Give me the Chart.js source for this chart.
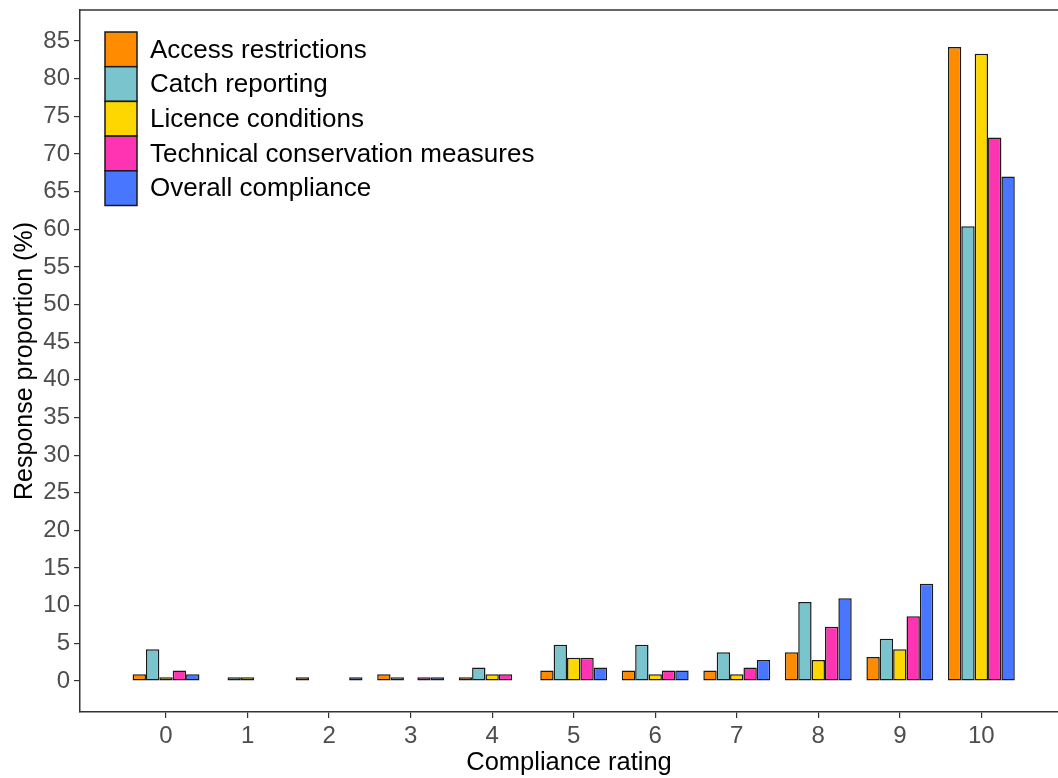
<!DOCTYPE html>
<html>
  <head>
    <meta charset="utf-8">
    <title>Compliance rating</title>
    <style>
      body { margin: 0; background: #fff; }
      #wrap { width: 1058px; height: 778px; }
    </style>
  </head>
  <body>
    <div id="wrap"><canvas id="myChart" width="1058" height="778"></canvas></div>
  </body>
  <script src="https://cdn.jsdelivr.net/npm/chart.js@4.4.1/dist/chart.umd.min.js"></script>
  <script type="text/javascript">

  // compliance ratings on the x axis
  const ratings = [0, 1, 2, 3, 4, 5, 6, 7, 8, 9, 10];
  const yTicks = [0, 5, 10, 15, 20, 25, 30, 35, 40, 45, 50, 55, 60, 65, 70, 75, 80, 85];

  const seriesNames = ['Access restrictions', 'Catch reporting', 'Licence conditions',
    'Technical conservation measures', 'Overall compliance'];
  const seriesColors = ['#FF8C00', '#7AC5CD', '#FFD700', '#FF34B3', '#4876FF'];

  // response proportion (%) per rating, null = no responses
  const access    = [0.9, null, 0.5, 0.9, 0.5, 1.4, 1.4, 1.4, 3.8, 3.2, 84.2];
  const catchRep  = [4.2, 0.5, null, 0.5, 1.8, 4.8, 4.8, 3.8, 10.5, 5.6, 60.4];
  const licence   = [0.5, 0.5, null, null, 0.9, 3.1, 0.9, 0.9, 2.8, 4.2, 83.3];
  const technical = [1.4, null, null, 0.5, 0.9, 3.1, 1.4, 1.8, 7.2, 8.6, 72.2];
  const overall   = [0.9, null, 0.5, 0.5, null, 1.8, 1.4, 2.8, 11.0, 12.9, 67.0];

  const allSeries = [access, catchRep, licence, technical, overall];
  const fontFam = "'Liberation Sans', Arial, sans-serif";

  // legend drawn inside the panel, top left, plus the top panel line
  const panelPlugin = {
    id: 'panel',
    afterDraw(chart) {
      const ctx = chart.ctx;
      const a = chart.chartArea;
      ctx.save();
      ctx.strokeStyle = '#333';
      ctx.lineWidth = 1.5;
      ctx.beginPath();
      ctx.moveTo(a.left, a.top);
      ctx.lineTo(a.right, a.top);
      ctx.stroke();

      const x0 = 105, y0 = 32, bw = 32, bh = 34.7;
      ctx.font = '26px ' + fontFam;
      ctx.textBaseline = 'middle';
      ctx.textAlign = 'left';
      chart.data.datasets.forEach((ds, i) => {
        const y = y0 + i * bh;
        ctx.fillStyle = ds.backgroundColor;
        ctx.fillRect(x0, y, bw, bh);
        ctx.strokeStyle = '#1a1a1a';
        ctx.lineWidth = 1.5;
        ctx.strokeRect(x0, y, bw, bh);
        ctx.fillStyle = '#000';
        ctx.fillText(ds.label, 150, y + bh / 2 + 1);
      });
      ctx.restore();
    }
  };

  const ctx = document.getElementById('myChart').getContext('2d');
  const chart = new Chart(ctx, {
    type: 'bar',
    data: {
      datasets: seriesNames.map((name, i) => ({
        label: name,
        backgroundColor: seriesColors[i],
        borderColor: '#1a1a1a',
        borderWidth: 1.5,
        borderSkipped: false,
        data: ratings.map((r, j) => ({ x: r, y: allSeries[i][j] }))
      }))
    },
    options: {
      responsive: false,
      animation: false,
      events: [],
      layout: { padding: { top: 10, right: 0, left: 0, bottom: 0 } },
      categoryPercentage: 0.82,
      barPercentage: 1.0,
      plugins: { legend: { display: false }, tooltip: { enabled: false } },
      scales: {
        x: {
          type: 'linear',
          offset: false,
          min: -1.055,
          max: 10.94,
          afterBuildTicks: (s) => { s.ticks = ratings.map(v => ({ value: v })); },
          afterFit: (s) => { s.height = 66; s.paddingLeft = 0; s.paddingRight = 0; },
          grid: { offset: false, drawOnChartArea: false, drawTicks: true, tickLength: 6, color: '#333', lineWidth: 1.2 },
          border: { display: true, color: '#333', width: 1.5 },
          ticks: { color: '#4D4D4D', font: { family: fontFam, size: 24 }, padding: 4, maxRotation: 0 },
          title: { display: true, text: 'Compliance rating', color: '#000',
            font: { family: fontFam, size: 25.5 }, padding: { top: -1, bottom: 0 } }
        },
        y: {
          min: -4.12,
          max: 89.12,
          afterBuildTicks: (s) => { s.ticks = yTicks.map(v => ({ value: v })); },
          afterFit: (s) => { s.width = 80; s.paddingTop = 0; s.paddingBottom = 0; },
          grid: { drawOnChartArea: false, drawTicks: true, tickLength: 6, color: '#333', lineWidth: 1.2 },
          border: { display: true, color: '#333', width: 1.5 },
          ticks: { color: '#4D4D4D', font: { family: fontFam, size: 24 }, padding: 4 },
          title: { display: true, text: 'Response proportion (%)', color: '#000',
            font: { family: fontFam, size: 25 }, padding: { top: 10, bottom: 0 } }
        }
      }
    },
    plugins: [panelPlugin]
  });
  </script>
</html>
